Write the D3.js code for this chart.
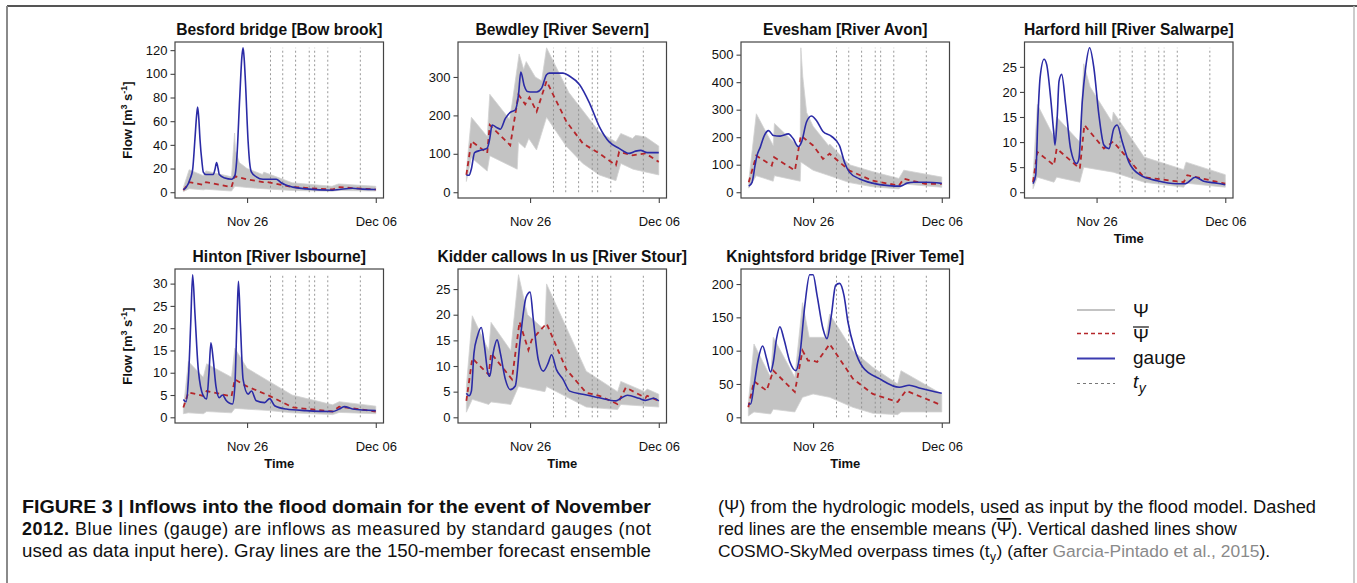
<!DOCTYPE html>
<html><head><meta charset="utf-8">
<script src="https://cdn.jsdelivr.net/npm/d3@7"></script>
<style>
body{margin:0;background:#fff}
svg{display:block}
text{font-family:"Liberation Sans",Arial,Helvetica,sans-serif;fill:#111}
</style>
</head><body>
<svg id="c" width="1357" height="583"></svg>
<script>
// ---------- DATA (time = days after Nov 26 00:00; values in m3/s) ----------
const titles = ["Besford bridge [Bow brook]","Bewdley [River Severn]","Evesham [River Avon]","Harford hill [River Salwarpe]","Hinton [River Isbourne]","Kidder callows In us [River Stour]","Knightsford bridge [River Teme]"];
const xTickValues = [0, 10];
const xTickLabels = ["Nov 26","Dec 06"];
const tyTimes = [1.82, 2.77, 3.77, 4.83, 5.25, 6.27, 8.8];

const yTicksBesford = [0,20,40,60,80,100,120];
const yTicksBewdley = [0,100,200,300];
const yTicksEvesham = [0,100,200,300,400,500];
const yTicksHarford = [0,5,10,15,20,25];
const yTicksHinton = [0,5,10,15,20,25,30];
const yTicksKidder = [0,5,10,15,20,25];
const yTicksKnights = [0,50,100,150,200];

// Besford bridge
const gaugeBesford = [[-4.95,2.3],[-4.74,4],[-4.4,12],[-4.23,19],[-4.05,45],[-3.92,65],[-3.84,72],[-3.75,62],[-3.66,45],[-3.5,25],[-3.4,17],[-3.2,15],[-2.63,15],[-2.5,19],[-2.37,25],[-2.25,20],[-2.16,15],[-1.73,12],[-1.21,11],[-0.95,14],[-0.82,25],[-0.57,80],[-0.4,115],[-0.31,122],[-0.22,112],[-0.13,94],[0.08,43],[0.2,25],[0.34,17],[0.72,13],[1.24,11],[2.27,11],[2.65,8],[3.56,4.3],[4.59,2.8],[6.65,1.7],[7.16,2.3],[8.2,3.4],[8.97,2.6],[10,2.3]];
const meanBesford = [[-4.95,1.7],[-4.48,8.5],[-3.4,6.3],[-3.2,8.5],[-1.21,4.3],[-0.95,13.6],[-0.05,11],[1.24,8.5],[1.5,8.8],[3.56,4.3],[6.65,2.3],[7.11,4.3],[10,2.3]];
const upperBesford = [[-4.95,4],[-4.5,19],[-3.4,14],[-3.2,18],[-1.21,13],[-0.97,50],[-0.9,35],[-0.6,25],[0,20],[1.2,15],[1.3,17],[3.5,8],[6.6,5],[7.1,7],[10,5]];
const lowerBesford = [[-4.95,0.5],[-4.5,3],[-3.4,2],[-3.2,2.5],[-1.21,1],[-0.95,5],[0,4],[1.24,3],[3.5,1.5],[6.6,0.8],[7.1,1.5],[10,1]];

// Bewdley
const gaugeBewdley = [[-4.95,45],[-4.74,44],[-4.56,61],[-4.31,103],[-3.85,109],[-3.33,115],[-3.13,140],[-2.95,175],[-2.56,168],[-2.31,164],[-1.92,192],[-1.54,208],[-1.15,214],[-0.9,254],[-0.72,313],[-0.46,278],[-0.2,262],[0,261],[0.51,261],[0.9,271],[1.28,306],[1.5,310],[2.56,310],[3.08,302],[3.85,280],[4.62,232],[5.38,171],[6.15,131],[6.92,114],[7.69,101],[8.2,107],[8.59,109],[9.1,103],[10,103]];
const meanBewdley = [[-4.95,45],[-4.56,133],[-3.33,102],[-3.13,175],[-1.54,122],[-0.9,254],[-0.38,229],[-0.05,247],[0.51,210],[1.28,289],[2.82,184],[4.1,127],[5.38,101],[6.67,70],[6.92,105],[7.95,96],[8.97,101],[10,79]];
const upperBewdley = [[-4.95,55],[-4.56,195],[-3.33,145],[-3.13,255],[-1.6,190],[-1.4,230],[-0.85,360],[-0.5,320],[-0.3,340],[0.4,300],[0.9,290],[1.28,376],[3,260],[5.38,157],[6.67,131],[7.05,153],[7.95,140],[8.2,148],[8.97,144],[10,120]];
const lowerBewdley = [[-4.95,28],[-4.56,90],[-3.33,55],[-3.13,95],[-1.0,60],[-0.9,130],[-0.4,115],[-0.1,140],[0.5,110],[1.28,195],[2.8,120],[4.1,75],[5.38,45],[6.67,30],[7.05,75],[8,60],[10,45]];

// Evesham
const gaugeEvesham = [[-5,22],[-4.74,36],[-4.5,100],[-4.36,133],[-4.1,164],[-3.79,206],[-3.46,224],[-3.08,206],[-2.56,204],[-1.92,212],[-1.54,194],[-1.15,166],[-0.9,182],[-0.51,255],[-0.13,277],[0.26,261],[0.77,221],[1.41,204],[2.05,170],[2.44,109],[2.82,73],[3.59,49],[4.62,33],[5.9,24],[6.79,22],[7.3,33],[7.82,36],[8.72,36],[10,32]];
const meanEvesham = [[-5,36],[-4.41,133],[-3.21,97],[-3.03,127],[-1.41,79],[-0.95,206],[0,170],[0.77,121],[1.28,140],[2.82,79],[4.62,42],[6.67,24],[7.05,49],[8.72,30],[10,30]];
const upperEvesham = [[-5,40],[-4.41,285],[-3.1,170],[-3.0,250],[-1.0,160],[-0.95,525],[-0.8,420],[-0.5,290],[0,240],[1.2,170],[1.3,175],[2.82,100],[4.6,75],[6.67,50],[7.05,80],[10,55]];
const lowerEvesham = [[-5,15],[-4.41,60],[-3.1,40],[-3.0,60],[-1.0,40],[-0.95,110],[0,80],[1.28,60],[2.82,35],[4.6,20],[6.67,12],[7.05,30],[10,18]];

// Harford hill
const gaugeHarford = [[-4.94,1.7],[-4.73,3.4],[-4.55,15.4],[-4.39,22.8],[-4.08,26.5],[-3.88,25.5],[-3.57,18.8],[-3.31,11.4],[-3.23,9.4],[-3.05,15.4],[-2.92,22.1],[-2.71,23.5],[-2.4,17.4],[-2.02,8.7],[-1.55,5.7],[-1.37,6.7],[-1.11,18.1],[-0.85,24.8],[-0.54,28.8],[-0.21,24.8],[0.18,15.4],[0.57,9.4],[0.96,8.7],[1.34,12.7],[1.6,13.4],[1.99,10.1],[2.51,6],[3.41,3.4],[4.7,2.3],[6.25,1.7],[6.9,1.7],[7.67,3],[8.32,2.2],[9.35,1.8],[10,1.5]];
const meanHarford = [[-4.94,2],[-4.6,8],[-3.31,5.4],[-3.1,8.7],[-1.3,4.7],[-0.95,13.4],[0.57,8.7],[1.29,10.1],[3.67,3],[6.77,2],[7.05,3.4],[10,1.7]];
const upperHarford = [[-4.94,3],[-4.6,17.5],[-3.31,11],[-3.1,15],[-1.3,10],[-1.0,25.6],[-0.5,21],[1.2,14],[1.3,16],[3.7,7],[6.77,4.5],[6.95,6],[10,3.5]];
const lowerHarford = [[-4.94,0.7],[-4.6,3],[-3.31,2],[-3.1,3],[-1.3,2],[-1.0,5],[1.3,4],[3.7,2],[6.77,1],[6.95,1.8],[10,1]];

// Hinton
const gaugeHinton = [[-4.95,4],[-4.74,3.5],[-4.56,8.5],[-4.38,21],[-4.23,32],[-4.05,23.3],[-3.79,10.7],[-3.4,4.8],[-3.14,4.1],[-2.96,10],[-2.81,16.7],[-2.63,13],[-2.42,7],[-2.16,4.4],[-1.91,5],[-1.65,3.9],[-1.13,3],[-0.95,7],[-0.77,23.3],[-0.67,30.5],[-0.52,21],[-0.31,8.5],[0.08,5.2],[0.34,5.9],[0.72,3.7],[1.37,3.3],[1.75,4.2],[2.14,2.6],[3.04,1.85],[4.59,1.5],[6.65,1.3],[7.16,1.85],[7.55,2.4],[8.2,1.85],[10,1.5]];
const meanHinton = [[-4.95,2.2],[-4.56,5.6],[-3.4,4.8],[-3.14,5.9],[-1.21,4.7],[-0.95,8.5],[-0.05,7],[1.75,4.8],[3.56,2.2],[6.65,1.3],[7.16,2.4],[10,1.3]];
const upperHinton = [[-4.95,2],[-4.56,12.5],[-3.4,9],[-3.14,12],[-1.21,9],[-0.95,15.5],[0,11],[1.75,8],[3.5,5],[6.65,2.8],[7.16,3.5],[10,2.5]];
const lowerHinton = [[-4.95,0.8],[-4.56,1],[-3.4,0.8],[-3.14,1.3],[-1.21,1],[-0.95,2],[1.75,1.5],[3.5,1],[6.65,0.6],[7.16,1.1],[10,0.8]];

// Kidder callows
const gaugeKidder = [[-4.95,4.7],[-4.74,4.2],[-4.56,5.1],[-4.36,12.5],[-4.1,15.7],[-3.79,17.5],[-3.54,13.8],[-3.28,8.7],[-3.13,8],[-2.87,12.5],[-2.56,15.1],[-2.31,12.5],[-1.92,7.4],[-1.54,5.4],[-1.15,6.1],[-0.77,15.1],[-0.31,23.4],[0,24.4],[0.26,18.9],[0.64,11.2],[1.03,9],[1.41,10.6],[1.67,12.2],[2.05,9.3],[2.56,7.4],[3.08,5.1],[4.1,4.5],[5.38,3.8],[6.67,3.2],[7.05,3.7],[7.56,4.3],[8.46,3.7],[8.97,3.3],[9.62,3.7],[10,3.2]];
const meanKidder = [[-4.95,3.2],[-4.49,11.5],[-3.21,8.3],[-3.03,12.5],[-1.41,7.4],[-0.82,18.6],[-0.13,13.1],[0.13,15.1],[1.28,18.3],[2.82,9.3],[4.36,4.8],[5.38,4.2],[6.79,2.6],[7.44,5.8],[8.97,3.8],[9.1,4.2],[10,3.2]];
const upperKidder = [[-4.95,6],[-4.49,19.8],[-3.21,13],[-3.03,18.5],[-1.5,13],[-0.9,27.8],[-0.2,20],[1.15,17],[1.28,26],[4.36,9],[6.8,5],[7.05,7],[8.9,5],[9.1,5.5],[10,4.5]];
const lowerKidder = [[-4.95,1],[-4.49,3.5],[-3.21,2.5],[-3.03,3],[-1.5,2.5],[-0.9,6],[1.15,5],[1.28,6],[4.36,2],[6.8,1.5],[7.05,2.5],[10,2]];

// Knightsford bridge
const gaugeKnights = [[-5.03,20],[-4.85,20],[-4.59,48],[-4.25,88],[-3.92,107],[-3.61,88],[-3.3,68],[-3.09,83],[-2.84,118],[-2.58,136],[-2.27,118],[-1.8,83],[-1.34,70],[-1.03,93],[-0.64,168],[-0.26,214],[0,214],[0.31,183],[0.77,133],[1.08,118],[1.42,153],[1.75,198],[2.06,201],[2.4,183],[2.71,143],[3.22,103],[3.87,75],[5.15,58],[6.7,45],[7.47,48],[8.25,44],[10,36]];
const meanKnights = [[-5.03,15],[-4.59,54],[-3.61,40],[-3.09,70],[-1.42,38],[-0.82,100],[-0.39,85],[0,85],[0.31,83],[1.29,110],[3.09,58],[4.64,35],[6.57,23],[6.83,30],[7.22,40],[10,18]];
const upperKnights = [[-5.03,22],[-4.59,110],[-3.3,60],[-3.09,120],[-1.42,60],[-0.82,172],[-0.3,120],[1.0,120],[1.29,155],[3.09,100],[4.64,75],[6.57,50],[6.83,70],[10,35]];
const lowerKnights = [[-5.03,2],[-4.59,8],[-3.3,5],[-3.09,12],[-1.42,8],[-0.82,30],[0,35],[1.29,30],[3.09,15],[4.64,6],[6.57,4],[6.83,8],[10,8]];

const legendLabels = ["\u03A8","\u03A8","gauge","t"];

// ---------- LAYOUT ----------
const svg = d3.select("#c");
const colLeft = [175, 458, 741, 1024.5];
const rowTop = [42, 269];
const rowH = [156, 154];
const boxW = 208.5;
const FONT = '"Liberation Sans",Arial,Helvetica,sans-serif';

const panels = [
  {g:gaugeBesford,m:meanBesford,u:upperBesford,l:lowerBesford,t:yTicksBesford,ylab:true,xlab:false},
  {g:gaugeBewdley,m:meanBewdley,u:upperBewdley,l:lowerBewdley,t:yTicksBewdley,ylab:false,xlab:false},
  {g:gaugeEvesham,m:meanEvesham,u:upperEvesham,l:lowerEvesham,t:yTicksEvesham,ylab:false,xlab:false},
  {g:gaugeHarford,m:meanHarford,u:upperHarford,l:lowerHarford,t:yTicksHarford,ylab:false,xlab:true},
  {g:gaugeHinton,m:meanHinton,u:upperHinton,l:lowerHinton,t:yTicksHinton,ylab:true,xlab:true},
  {g:gaugeKidder,m:meanKidder,u:upperKidder,l:lowerKidder,t:yTicksKidder,ylab:false,xlab:true},
  {g:gaugeKnights,m:meanKnights,u:upperKnights,l:lowerKnights,t:yTicksKnights,ylab:false,xlab:true}
];

// figure frame
svg.append("line").attr("x1",7).attr("x2",1357).attr("y1",6).attr("y2",6).attr("stroke","#555").attr("stroke-width",2);
svg.append("line").attr("x1",7).attr("x2",7).attr("y1",6).attr("y2",583).attr("stroke","#8a8a8a").attr("stroke-width",2);
svg.append("line").attr("x1",1354).attr("x2",1354).attr("y1",6).attr("y2",583).attr("stroke","#bbb").attr("stroke-width",1.5);

panels.forEach((p,i)=>{
  const row = i<4?0:1, col = i<4?i:i-4;
  const L = colLeft[col], T = rowTop[row], H = rowH[row];
  const x = d3.scaleLinear().domain([-5.6,10.6]).range([L,L+boxW]);
  const ymax = d3.max([...p.g,...p.m,...p.u], d=>d[1]);
  const y = d3.scaleLinear().domain([-0.04*ymax,1.04*ymax]).range([T+H,T]);
  const g = svg.append("g");

  // ensemble envelope
  const poly = [...p.u, ...p.l.slice().reverse()];
  g.append("path").attr("d", d3.line().x(d=>x(d[0])).y(d=>y(d[1]))(poly)+"Z")
    .attr("fill","#c3c3c3").attr("stroke","#d2d2d2").attr("stroke-width",0.8);

  // overpass times
  g.selectAll(".ty").data(tyTimes).join("line")
    .attr("x1",d=>x(d)).attr("x2",d=>x(d)).attr("y1",y(0)).attr("y2",y(ymax))
    .attr("stroke","#8c8c8c").attr("stroke-width",0.9).attr("stroke-dasharray","2,2.5");

  // mean
  g.append("path").attr("d", d3.line().x(d=>x(d[0])).y(d=>y(d[1]))(p.m))
    .attr("fill","none").attr("stroke","#b5262a").attr("stroke-width",1.8).attr("stroke-dasharray","5,4");
  // gauge
  g.append("path").attr("d", d3.line().curve(d3.curveMonotoneX).x(d=>x(d[0])).y(d=>y(d[1]))(p.g))
    .attr("fill","none").attr("stroke","#2b2ba6").attr("stroke-width",1.6);

  // box
  g.append("rect").attr("x",L).attr("y",T).attr("width",boxW).attr("height",H)
    .attr("fill","none").attr("stroke","#444").attr("stroke-width",1.2);

  // axes
  const ay = g.append("g").attr("transform",`translate(${L},0)`)
    .call(d3.axisLeft(y).tickValues(p.t).tickSize(4.5).tickPadding(3).tickFormat(d3.format("d")));
  const ax = g.append("g").attr("transform",`translate(0,${T+H})`)
    .call(d3.axisBottom(x).tickValues(xTickValues).tickSize(5).tickPadding(13.5).tickFormat((d,k)=>xTickLabels[k]));
  [ay,ax].forEach(a=>{
    a.select(".domain").remove();
    a.attr("font-family",FONT).attr("font-size",13);
    a.selectAll("line").attr("stroke","#444").attr("stroke-width",1.1);
    a.selectAll("text").attr("fill","#222");
  });

  // title
  g.append("text").attr("x",L+boxW/2).attr("y",T-7).attr("text-anchor","middle")
    .attr("font-size",15.6).attr("font-weight","bold").text(titles[i]);

  if(p.xlab){
    g.append("text").attr("x",L+boxW/2).attr("y",T+H+44.5).attr("text-anchor","middle")
      .attr("font-size",13).attr("font-weight","bold").text("Time");
  }
  if(p.ylab){
    const t = g.append("text").attr("transform",`translate(131.5,${T+H/2}) rotate(-90)`)
      .attr("text-anchor","middle").attr("font-size",13).attr("font-weight","bold");
    t.append("tspan").text("Flow  [m");
    t.append("tspan").attr("font-size",9).attr("dy",-5).text("3");
    t.append("tspan").attr("dy",5).text(" s");
    t.append("tspan").attr("font-size",9).attr("dy",-5).text("-1");
    t.append("tspan").attr("dy",5).text("]");
  }
});

// ---------- LEGEND ----------
const lg = svg.append("g");
const lx0 = 1077, lx1 = 1115, ltx = 1133;
const ly = [310, 333.5, 358.5, 383.5];
const lstyles = [
  {c:"#c3c3c3",w:2,d:null},
  {c:"#b5262a",w:1.5,d:"4,3"},
  {c:"#3b3bb0",w:2,d:null},
  {c:"#777",w:1,d:"3,3"}
];
lstyles.forEach((s,k)=>{
  lg.append("line").attr("x1",lx0).attr("x2",lx1).attr("y1",ly[k]).attr("y2",ly[k])
    .attr("stroke",s.c).attr("stroke-width",s.w).attr("stroke-dasharray",s.d);
});
lg.append("text").attr("x",ltx).attr("y",ly[0]+6.5).attr("font-size",19).text(legendLabels[0]);
const psiBar = lg.append("text").attr("x",ltx).attr("y",ly[1]+8.5).attr("font-size",19).text(legendLabels[1]);
const bb = psiBar.node().getBBox();
lg.append("line").attr("x1",bb.x).attr("x2",bb.x+bb.width).attr("y1",bb.y+2).attr("y2",bb.y+2)
  .attr("stroke","#111").attr("stroke-width",1.2);
lg.append("text").attr("x",ltx).attr("y",ly[2]+5).attr("font-size",19).text(legendLabels[2]);
const tyt = lg.append("text").attr("x",ltx).attr("y",ly[3]+4).attr("font-size",19).attr("font-style","italic");
tyt.append("tspan").text(legendLabels[3]);
tyt.append("tspan").attr("font-size",14).attr("dy",5).attr("dx",0.5).text("y");

// ---------- CAPTION ----------
const cap = svg.append("g").attr("font-size",18);
const cy = [513, 535, 557];
cap.append("text").attr("x",22).attr("y",cy[0]).attr("font-weight","bold")
  .attr("textLength",629).attr("lengthAdjust","spacingAndGlyphs")
  .text("FIGURE 3 | Inflows into the flood domain for the event of November");
const c2 = cap.append("text").attr("x",22).attr("y",cy[1])
  .attr("textLength",629).attr("lengthAdjust","spacing");
c2.append("tspan").attr("font-weight","bold").text("2012.");
c2.append("tspan").text(" Blue lines (gauge) are inflows as measured by standard gauges (not");
cap.append("text").attr("x",22).attr("y",cy[2])
  .attr("textLength",629).attr("lengthAdjust","spacingAndGlyphs")
  .text("used as data input here). Gray lines are the 150-member forecast ensemble");
cap.append("text").attr("x",718).attr("y",cy[0])
  .attr("textLength",598).attr("lengthAdjust","spacingAndGlyphs")
  .text("(\u03A8) from the hydrologic models, used as input by the flood model. Dashed");
const r2 = cap.append("text").attr("x",718).attr("y",cy[1]).attr("font-size",17.8);
r2.append("tspan").text("red lines are the ensemble means (");
r2.append("tspan").attr("text-decoration","overline").text("\u03A8");
r2.append("tspan").text("). Vertical dashed lines show");
const r3 = cap.append("text").attr("x",718).attr("y",cy[2]).attr("font-size",17.4);
r3.append("tspan").text("COSMO-SkyMed overpass times (t");
r3.append("tspan").attr("font-size",12).attr("dy",4).attr("dx",0.5).text("y");
r3.append("tspan").attr("dy",-4).attr("dx",0.5).text(") (after ");
r3.append("tspan").attr("fill","#8a8a8a").text("Garcia-Pintado et al., 2015");
r3.append("tspan").text(").");
</script>
</body></html>
